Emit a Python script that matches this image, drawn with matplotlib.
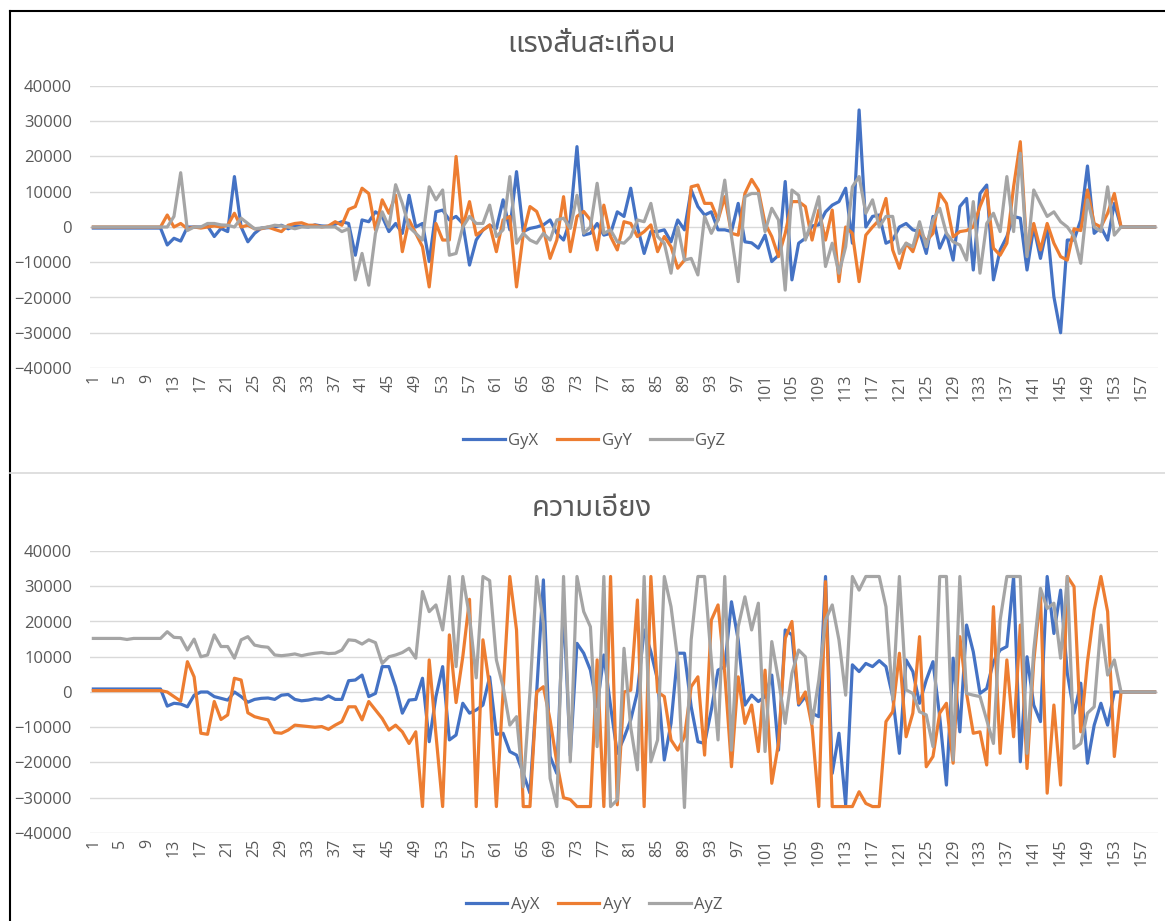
import matplotlib
matplotlib.use("Agg")
import matplotlib.pyplot as plt
from matplotlib.lines import Line2D

# --- data (sample index 1..159) ---
idx = list(range(1, 160))

gyx = ([-300] * 11 +
       [-5100, -3200, -4000, 0, 0, 0, 300, -2700, -400, -1300] +
       [14300, 0, -4200, -1800, -300, -200, 0, 500, -500, 300] +
       [200, 0, 600, 300, 200, 800, 1500, 1000, -8000, 2000] +
       [1500, 4300, 3000, -1300, 1000, -1800, 9000, 0, 1000, -9800] +
       [4300, 4800, 2000, 3000, 1000, -10800, -3700, -800, 500, -400] +
       [7700, -800, 15700, -1300, -400, 0, 600, 2000, -1800, -3700] +
       [2000, 22800, -2300, -1800, 1000, -2300, -1800, 4300, 3000, 11000] +
       [0, -7500, -1300, -1300, -800, -4200, 2000, -800, 10500, 5800] +
       [3400, 4300, -800, -800, -1300, 6700, -4200, -4500, -6000, -2300] +
       [-9800, -8000, 12900, -15000, -4600, -3200, 300, 600, 4300, 6200] +
       [7200, 11000, -4600, 33200, 0, 3000, 3400, -4600, -3700, 0] +
       [1000, -800, -1300, -7500, 3000, -6000, -1800, -9400, 5800, 8100] +
       [-12200, 9500, 11900, -15000, -6500, -2700, 3000, 2500, -12200, 0] +
       [-8900, 0, -19800, -30000, -3700, -3700, 2000, 17300, -1800, 0] +
       [-3700, 6700] + [0] * 6)

gyy = ([0] * 11 +
       [3400, 0, 1000, -500, 0, -300, 0, 300, 0, 500] +
       [3900, 0, 500, -500, -500, 0, -700, -1300, 500, 1000] +
       [1200, 500, 500, 0, 300, 1500, 500, 5000, 5800, 11000] +
       [9500, -800, 7700, 3900, 9000, -7000, 2000, -1800, -5600, -17000] +
       [1000, -3700, -3700, 20000, 0, 7200, -2300, -900, 600, -7000] +
       [2000, 3000, -17000, -2000, 5800, 4400, -500, -8900, -3700, 8600] +
       [-7000, 3000, 4400, 2000, -6500, 6200, -2700, -6500, 1500, 1000] +
       [-2700, -1300, 600, -7000, -2700, -5600, -11700, -9400, 11400, 11900] +
       [6700, 6700, 2000, 8600, -1800, -2300, 9500, 13500, 10500, 1000] +
       [-2700, -8400, -1800, 7200, 7200, 5800, -3700, 4800, -3700, 4800] +
       [-15500, 0, -1800, -15500, -2300, 0, 2000, 8100, -6500, -11700] +
       [-4600, -7000, -1000, -4000, -1800, 9500, 6700, -2800, -1300, -1000] +
       [0, 5800, 10500, -6000, -8000, -4600, 11400, 24200, -7500, 1000] +
       [-6500, 1000, -4600, -8400, -9400, -500, -1000, 10500, 1000, 0] +
       [3900, 9500] + [0] * 6)

gyz = ([0] * 11 +
       [0, 3000, 15400, -1000, 0, 0, 1000, 1000, 600, 500] +
       [0, 2500, 1000, -500, -300, 0, 500, 300, 0, -500] +
       [0, 0, 0, 0, 0, 0, -1300, -500, -15000, -7500] +
       [-16500, -1800, 4300, 0, 12000, 6700, 0, -1800, -3700, 11400] +
       [7700, 10500, -8000, -7500, 0, 3000, 1000, 1000, 6200, -2700] +
       [-800, 14300, -4600, -1800, -3700, -4600, -1800, -3700, 2000, 2500] +
       [-400, 9000, -1800, 0, 12400, -1800, -800, -4200, -4600, -2700] +
       [2000, 1500, 6700, -2700, -4600, -13100, 0, -9400, -8900, -13600] +
       [3000, -1800, 2000, 13300, -2700, -15500, 8600, 9500, 9500, -1300] +
       [5300, 2000, -17900, 10500, 9000, -3700, 2000, 8600, -11200, -4600] +
       [-13100, -5600, 11400, 14300, 3900, 7700, 0, 3000, 3000, -7500] +
       [-4600, -5600, 1500, -5600, 2000, 5300, -1800, -4200, -5100, -9400] +
       [7200, -13100, 1000, 3900, -1300, 14300, -1300, 20900, -8400, 10500] +
       [6700, 3000, 4300, 1500, 0, -2700, -10300, 7700, 0, -1300] +
       [11400, -2300] + [0] * 6)

ayx = ([850] * 11 +
       [-4000, -3200, -3400, -4200, -900, 0, 0, -1300, -1800, -2300] +
       [0, -1300, -2900, -2100, -1800, -1700, -2100, -900, -700, -2100] +
       [-2500, -2300, -1900, -2100, -1100, -2100, -2100, 3200, 3400, 4800] +
       [-1300, -400, 7200, 7200, 1500, -6000, -2300, -2100, 3900, -14100] +
       [-1300, 7200, -13600, -12200, -3200, -6000, -5100, -3700, 4300, -12000] +
       [-11700, -16900, -17900, -23100, -28700, 0, 31800, -18300, -23100, 25000] +
       [-18000, 13800, 11000, 6200, -4200, 10500, -4000, -17400, -13000, -7900] +
       [0, 17600, 11400, 3400, -19300, -8900, 11000, 11000, -4200, -14100] +
       [-14600, -5100, 6200, 7200, 25600, 14800, -3700, -900, -2700, -1300] +
       [4800, -16500, 17600, 16200, -3700, -1300, -6000, -7000, 32767, -23100] +
       [-11700, -32000, 7700, 5800, 8100, 7200, 8900, 7200, -1300, -17400] +
       [9100, 5800, -3200, 3400, 8600, -7000, -26400, 9600, -11300, 19000] +
       [11400, -400, 1000, 8600, 11900, 12900, 32700, -19800, 10000, -3700] +
       [-8400, 32767, 16600, 28900, 5300, -6000, 2500, -20200, -9400, -3200] +
       [-9400, 0] + [0] * 6)

ayy = ([400] * 11 +
       [0, -1300, -2600, 8600, 4300, -11700, -12000, -2700, -7800, -6500] +
       [3900, 3400, -5900, -7000, -7500, -7900, -11500, -11700, -10800, -9400] +
       [-9600, -9800, -10000, -9800, -10600, -9400, -8400, -4200, -4200, -7900] +
       [-2700, -5100, -7500, -10800, -9400, -11300, -14600, -11300, -32500, 9100] +
       [-12000, -32500, 16200, -3000, 10000, 26300, -32500, 14800, 1500, -32500] +
       [0, 32767, 17600, -32500, -32500, 0, 1500, -8000, -20000, -30000] +
       [-30500, -32500, -32500, -32500, 9100, -32500, 32767, -32000, 0, 500] +
       [26100, -32500, 32767, 0, -1300, -13600, -16500, -12700, 1500, 4300] +
       [-17900, 20400, 24700, 5300, -21200, 4300, -8900, -3700, -16900, 6200] +
       [-25900, -14600, 15200, 20000, -3200, 0, -9800, -32500, 31300, -32500] +
       [-32500, -32500, -32500, -28300, -31600, -32500, -32500, -8400, -5600, 11000] +
       [-12700, -6000, 15700, -21200, -18300, -6000, -3200, -20200, 15700, -400] +
       [-11700, -11300, -20700, 24200, -17400, 9100, -12700, 19000, -21700, 8600] +
       [27500, -28700, -3700, -26400, 32767, 29900, -11300, 8600, 23300, 32767] +
       [22800, -18300] + [0] * 6)

ayz = ([15200] * 5 + [14900] + [15200] * 5 +
       [17100, 15500, 15400, 11900, 15000, 10000, 10500, 16200, 12900, 12900] +
       [9600, 14800, 15700, 13300, 12900, 12700, 10500, 10300, 10500, 10800] +
       [10300, 10700, 11000, 11200, 10900, 11000, 11900, 14800, 14600, 13600] +
       [14800, 14000, 8100, 10000, 10500, 11200, 12400, 9600, 28500, 22800] +
       [24700, 17600, 32767, 7200, 32767, 21400, 4000, 32767, 31600, 9100] +
       [1500, -9400, -7000, -26900, 0, 32767, 19500, -24500, -32500, 32767] +
       [-19800, 32767, 22800, 18500, -15500, 32767, -32500, -30600, 12400, -10000] +
       [-22100, 32767, -19800, -13600, 32767, 24200, 9100, -32767, 14800, 32767] +
       [32767, 9100, -13600, 32767, -16500, 18500, 27000, 17600, 25200, -16900] +
       [14300, 3400, -8900, 5300, 11900, 10000, -8900, 3400, 20400, 24700] +
       [14800, -900, 32767, 28900, 32767, 32767, 32767, 24200, -2000, 32767] +
       [600, -400, -5600, -6500, -15500, 32767, 32767, -19300, 32767, -400] +
       [-900, -1300, -7900, -14600, 20400, 32767, 32767, 32767, -17400, 11900] +
       [29400, 23700, 25200, 9600, 32767, -16000, -14600, -6000, -4200, 19000] +
       [4800, 9100] + [0] * 6)

title_top = "แรงสั่นสะเทือน"
title_bottom = "ความเอียง"
names_top = ["GyX", "GyY", "GyZ"]
names_bottom = ["AyX", "AyY", "AyZ"]
colors = ["#4472C4", "#ED7D31", "#A5A5A5"]

plt.rcParams["font.family"] = ["Open Sans", "DejaVu Sans"]
W, H = 1165, 921
fig = plt.figure(figsize=(W / 100, H / 100), dpi=100)

def px_box(x0, y0, x1, y1):
    return [x0 / W, 1 - y1 / H, (x1 - x0) / W, (y1 - y0) / H]

def draw_panel(rect, series, names, title, title_y, legend_y):
    ax = fig.add_axes(rect)
    for s, c, n in zip(series, colors, names):
        ax.plot(idx, s, color=c, lw=2.3, label=n, solid_joinstyle="round")
    ax.set_xlim(0.5, 159.5)
    ax.set_ylim(-40000, 40000)
    ax.set_yticks(range(-40000, 40001, 10000))
    ax.set_xticks(idx[::4])
    ax.set_xticklabels([str(i) for i in idx[::4]], rotation=90)
    ax.tick_params(axis="y", length=0, labelsize=12, colors="#595959", pad=13)
    ax.tick_params(axis="x", length=0, labelsize=11.5, colors="#595959", pad=4)
    ax.grid(axis="y", color="#D9D9D9", lw=1)
    ax.set_axisbelow(True)
    for sp in ax.spines.values():
        sp.set_visible(False)
    fig.text(0.508, 1 - title_y / H, title, ha="center", va="center",
             fontsize=21, color="#595959", weight="bold",
             family=["Noto Sans Thai", "DejaVu Sans"])
    handles = [Line2D([], [], color=c, lw=2.3) for c in colors]
    fig.legend(handles, names, loc="center", ncol=3,
               bbox_to_anchor=(0.51, 1 - legend_y / H), frameon=False,
               fontsize=12, handlelength=2.5, columnspacing=1.1,
               handletextpad=0.2, labelcolor="#595959")
    return ax

draw_panel(px_box(90, 86, 1158, 368), [gyx, gyy, gyz], names_top,
           title_top, 45, 441)
draw_panel(px_box(90, 551, 1158, 833), [ayx, ayy, ayz], names_bottom,
           title_bottom, 508, 905)

# frame and divider
fig.add_artist(Line2D([10 / W, 10 / W], [0, 1 - 11 / H], color="black", lw=1.5))
fig.add_artist(Line2D([10 / W, 1], [1 - 11 / H, 1 - 11 / H], color="black", lw=1.5))
fig.add_artist(Line2D([10 / W, 1], [1 - 473 / H, 1 - 473 / H], color="#D9D9D9", lw=1.2))

fig.savefig("out.png", dpi=100)
